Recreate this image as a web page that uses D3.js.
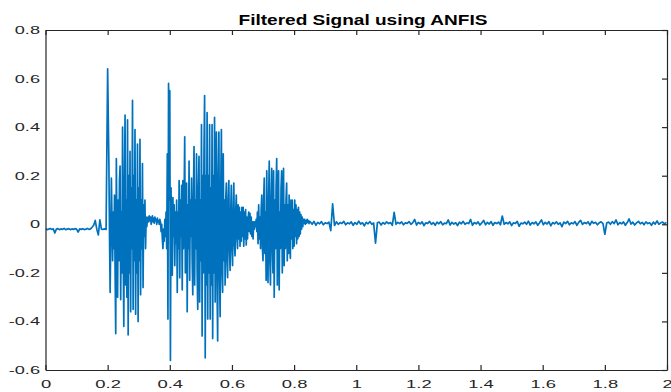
<!DOCTYPE html>
<html><head><meta charset="utf-8">
<script src="https://cdn.jsdelivr.net/npm/d3@7/dist/d3.min.js"></script>
<style>body{margin:0;background:#fff}svg{display:block}</style>
</head><body>
<svg id="chart" width="671" height="392"></svg>
<script>
const chartTitle = "Filtered Signal using ANFIS";
const xTicks = [0, 0.2, 0.4, 0.6, 0.8, 1, 1.2, 1.4, 1.6, 1.8, 2];
const xTickLabels = ["0", "0.2", "0.4", "0.6", "0.8", "1", "1.2", "1.4", "1.6", "1.8", "2"];
const yTicks = [-0.6, -0.4, -0.2, 0, 0.2, 0.4, 0.6, 0.8];
const yTickLabels = ["-0.6", "-0.4", "-0.2", "0", "0.2", "0.4", "0.6", "0.8"];

// pre-speech segment: t = 0 .. 0.195, step 0.005
const preStart = 0, preStep = 0.005;
const preValues = [
  -0.018, -0.022, -0.02, -0.017, -0.021, -0.019, -0.036, -0.02, -0.018, -0.022,
  -0.019, -0.021, -0.017, -0.022, -0.02, -0.018, -0.022, -0.019, -0.021, -0.018,
  -0.02, -0.032, -0.019, -0.021, -0.018, -0.022, -0.02, -0.017, -0.021, -0.019,
  -0.012, -0.004, 0.016, -0.02, -0.044, 0.018, -0.02, -0.021, -0.019, -0.021
];

// speech segment: t = 0.200 .. 0.850, step 0.002 (rows of 0.02 s)
const speechStart = 0.2, speechStep = 0.002;
const speechValues = [
  0.64, 0.44, 0.25, -0.05, -0.28, -0.06, 0.19, 0.02, -0.15, 0.05,
  -0.1, 0.12, -0.2, -0.45, 0.27, -0.05, -0.3, 0.1, -0.15, 0.18,
  0.24, -0.31, 0.05, -0.2, 0.40, -0.1, -0.42, 0.15, 0.45, -0.25,
  0.1, -0.3, 0.43, -0.455, 0.2, -0.2, 0.30, -0.36, 0.15, -0.1,
  0.51, -0.35, 0.2, -0.15, 0.39, -0.37, 0.1, -0.2, 0.33, -0.40,
  0.15, -0.15, 0.35, -0.29, 0.1, -0.1, 0.25, -0.26, 0.08, -0.05,
  0.10, -0.10, 0.03, -0.01, 0.02, 0.03, 0.01, 0.035, 0.015, 0.03,
  0.0, 0.02, 0.035, 0.01, 0.025, 0.005, 0.03, 0.015, 0.02, 0.0,
  0.025, 0.01, 0.015, 0.0, 0.02, 0.01, -0.03, 0.0, -0.06, -0.1,
  -0.02, -0.07, 0.02, -0.05, 0.05, -0.1, 0.29, -0.39, 0.58, 0.1,
  0.55, -0.56, 0.15, -0.1, -0.21, 0.11, -0.05, 0.08, -0.17, 0.05,
  -0.08, 0.1, -0.28, 0.05, -0.1, 0.18, -0.22, 0.1, -0.05, 0.16,
  -0.27, 0.18, -0.1, 0.1, 0.36, -0.2, 0.05, 0.17, -0.36, 0.08,
  -0.1, 0.26, -0.23, 0.1, -0.05, 0.19, -0.15, -0.29, 0.12, 0.32,
  -0.25, 0.1, -0.1, 0.29, -0.2, -0.35, 0.15, 0.28, -0.32, 0.1,
  -0.15, 0.41, -0.46, 0.2, -0.2, 0.3, 0.53, -0.55, 0.2, -0.25,
  0.46, -0.39, 0.2, -0.2, 0.41, -0.39, 0.15, -0.25, 0.41, -0.47,
  0.2, -0.2, 0.44, -0.32, 0.15, 0.38, -0.25, -0.48, 0.2, 0.38,
  -0.2, -0.38, 0.15, 0.39, -0.2, -0.28, 0.29, -0.15, 0.1, -0.25,
  0.1, 0.17, -0.15, -0.22, 0.1, 0.18, -0.1, -0.19, 0.05, 0.16,
  -0.1, -0.17, 0.05, 0.17, -0.08, -0.13, 0.05, 0.12, -0.05, -0.1,
  0.08, -0.06, 0.07, -0.09, 0.05, -0.07, 0.07, -0.05, 0.07, -0.09,
  0.05, -0.06, 0.06, -0.085, 0.03, -0.06, 0.02, 0.05, -0.03, 0.045,
  -0.04, 0.03, -0.05, 0.01, -0.06, 0.01, -0.02, 0.01, -0.01, 0.02,
  -0.03, 0.05, -0.08, 0.08, -0.06, 0.03, -0.1, 0.06, 0.12, -0.1,
  -0.15, 0.1, 0.19, -0.12, 0.05, -0.23, 0.22, -0.1, -0.24, 0.1,
  0.26, -0.15, -0.25, 0.1, 0.23, -0.1, -0.2, 0.22, -0.30, 0.1,
  -0.1, 0.15, 0.27, -0.25, 0.1, 0.22, -0.27, 0.05, -0.1, 0.15,
  0.22, -0.2, 0.05, 0.23, -0.17, 0.08, -0.1, 0.1, 0.17, -0.15,
  0.08, -0.12, 0.12, -0.08, -0.14, 0.1, -0.06, 0.1, -0.1, 0.06,
  -0.09, 0.1, -0.05, 0.08, -0.08, 0.06, -0.06, 0.07, -0.05, 0.05,
  -0.04, 0.04, -0.02, 0.03, -0.01, 0.02, 0.005, 0.02, 0.0, 0.015,
  0.005, 0.02, 0.008, 0.015, 0.003, 0.012
];

// post-speech noise: t = 0.852 .. 1.998, step 0.006
const noiseStart = 0.852, noiseStep = 0.006;
const noiseValues = [
  0.01, 0.0, 0.012, -0.004, 0.008, 0.002, 0.011, -0.002, 0.006, 0.003,
  0.009, -0.026, 0.084, -0.005, 0.01, 0.0, 0.007, 0.003, 0.012, -0.002,
  0.006, 0.002, 0.01, -0.004, 0.007, 0.0, 0.013, 0.001, 0.006, -0.006,
  0.008, 0.002, 0.011, 0.0, 0.005, -0.078, 0.006, 0.009, -0.003, 0.007,
  0.001, 0.01, 0.003, 0.007, -0.004, 0.049, 0.0, 0.008, 0.003, 0.01,
  -0.002, 0.006, 0.004, 0.011, 0.0, 0.007, 0.02, -0.003, 0.008, 0.002,
  0.01, -0.005, 0.006, 0.003, 0.012, 0.0, 0.007, -0.004, 0.009, 0.002,
  0.011, -0.002, 0.005, 0.003, 0.018, -0.003, 0.008, 0.001, 0.006, -0.005,
  0.009, 0.002, 0.012, 0.0, 0.006, 0.003, 0.02, -0.004, 0.007, 0.002,
  0.01, -0.003, 0.006, 0.016, -0.002, 0.008, 0.001, 0.011, -0.004, 0.007,
  0.003, 0.009, -0.002, 0.034, 0.0, 0.007, 0.002, 0.01, -0.005, 0.006,
  0.003, 0.012, -0.008, 0.005, 0.002, 0.009, 0.0, 0.013, -0.003, 0.007,
  0.002, 0.01, -0.004, 0.006, 0.018, -0.002, 0.008, 0.001, 0.011, -0.006,
  0.007, 0.002, 0.01, 0.0, 0.006, -0.01, 0.009, 0.003, 0.012, -0.002,
  0.006, 0.002, 0.011, -0.004, 0.008, 0.016, 0.0, 0.007, 0.003, 0.01,
  -0.003, 0.012, 0.004, 0.008, -0.002, 0.006, 0.01, 0.003, -0.041, 0.005,
  0.009, 0.0, 0.011, 0.003, 0.018, -0.002, 0.007, 0.002, 0.01, -0.004,
  0.007, 0.022, 0.001, 0.009, -0.003, 0.006, 0.012, 0.002, 0.008, -0.002,
  0.01, 0.003, 0.006, -0.004, 0.009, 0.001, 0.014, 0.0, 0.006, 0.009,
  0.002, 0.008
];

const segments = [
  {start: preStart, step: preStep, values: preValues},
  {start: speechStart, step: speechStep, values: speechValues},
  {start: noiseStart, step: noiseStep, values: noiseValues}
];
const points = [];
segments.forEach(s => s.values.forEach((v, i) => points.push([s.start + i * s.step, v])));

const L = 45.5, R = 667, T = 30, B = 370;
const x = d3.scaleLinear().domain([0, 2]).range([L, R]);
const y = d3.scaleLinear().domain([-0.6, 0.8]).range([B, T]);

const svg = d3.select("#chart");
const font = "'Liberation Sans', Arial, Helvetica, sans-serif";
const axisColor = "#262626";

svg.append("defs").append("clipPath").attr("id", "clip")
  .append("rect").attr("x", L).attr("y", T).attr("width", R - L).attr("height", B - T);

svg.append("path")
  .datum(points)
  .attr("clip-path", "url(#clip)")
  .attr("fill", "none")
  .attr("stroke", "#0072BD")
  .attr("stroke-width", 1.7)
  .attr("stroke-linejoin", "round")
  .attr("d", d3.line().x(d => x(d[0])).y(d => y(d[1])));

function styleAxis(g) {
  g.select(".domain").attr("stroke", axisColor).attr("stroke-width", 1.2);
  g.selectAll(".tick line").attr("stroke", axisColor).attr("stroke-width", 1.2);
  g.selectAll("text").attr("fill", axisColor).style("font-family", font);
}

// bottom axis
const gx = svg.append("g").attr("transform", `translate(0,${B})`)
  .call(d3.axisBottom(x).tickValues(xTicks).tickFormat((d, i) => xTickLabels[i])
    .tickSizeInner(-5).tickSizeOuter(0).tickPadding(10));
styleAxis(gx);
gx.selectAll("text").style("font-size", "11.5px").attr("transform", "scale(1.6,1)");

// top axis
const gt = svg.append("g").attr("transform", `translate(0,${T})`)
  .call(d3.axisTop(x).tickValues(xTicks).tickFormat("").tickSizeInner(-5).tickSizeOuter(0));
styleAxis(gt);

// left axis
const gy = svg.append("g").attr("transform", `translate(${L},0)`)
  .call(d3.axisLeft(y).tickValues(yTicks).tickFormat((d, i) => yTickLabels[i])
    .tickSizeInner(0).tickSizeOuter(0).tickPadding(5.5));
styleAxis(gy);
gy.selectAll("text").style("font-size", "11px")
  .attr("x", -5.5 / 1.65).attr("transform", "scale(1.65,1)");

// right axis
const gr = svg.append("g").attr("transform", `translate(${R},0)`)
  .call(d3.axisRight(y).tickValues(yTicks).tickFormat("").tickSizeInner(-5).tickSizeOuter(0));
styleAxis(gr);

// title
svg.append("text")
  .attr("transform", `translate(363,25) scale(1.36,1)`)
  .attr("text-anchor", "middle")
  .style("font-family", font)
  .style("font-weight", "bold")
  .style("font-size", "14px")
  .attr("fill", "#000")
  .text(chartTitle);
</script>
</body></html>
